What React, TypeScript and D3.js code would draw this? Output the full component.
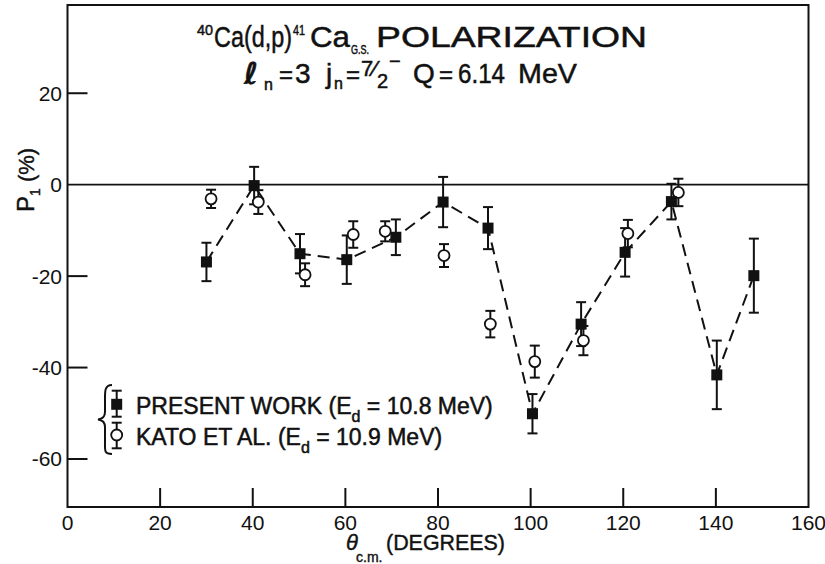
import React from "react";
import * as d3 from "d3";

const W = 825;
const H = 564;

const xTickValues = [0, 20, 40, 60, 80, 100, 120, 140, 160];
const xInnerTicks = [20, 40, 60, 80, 100, 120, 140];
const yTickValues = [20, 0, -20, -40, -60];
const yInnerTicks = [20, -20, -40, -60];

// Present work (E_d = 10.8 MeV) — filled squares
const presentAngle = [30, 40.3, 50.2, 60.3, 70.9, 81.1, 90.8, 100.4, 110.9, 120.4, 130.4, 140.2, 148.2];
const presentP = [-16.9, -0.2, -15.1, -16.4, -11.5, -3.8, -9.5, -50.1, -30.5, -14.8, -3.7, -41.6, -19.9];
const presentErr = [4.2, 4.1, 4.3, 5.3, 3.9, 5.5, 4.6, 4.3, 4.8, 5.3, 3.9, 7.5, 8.1];

// Kato et al. (E_d = 10.9 MeV) — open circles
const katoAngle = [31.0, 41.2, 51.3, 61.7, 68.6, 81.3, 91.3, 100.9, 111.4, 121.0, 131.9];
const katoP = [-3.1, -3.8, -19.7, -10.9, -10.2, -15.5, -30.5, -38.7, -34.1, -10.7, -1.7];
const katoErr = [2.0, 2.6, 2.5, 2.9, 2.2, 2.5, 2.9, 3.5, 3.2, 3.0, 3.0];

const FONT = "'Liberation Sans', Arial, sans-serif";
const INK = "#111";

function ErrBar({ cx, y1, y2, cap = 5 }: { cx: number; y1: number; y2: number; cap?: number }) {
  return (
    <g stroke={INK} strokeWidth={2} fill="none">
      <line x1={cx} x2={cx} y1={y1} y2={y2} />
      <line x1={cx - cap} x2={cx + cap} y1={y1} y2={y1} />
      <line x1={cx - cap} x2={cx + cap} y1={y2} y2={y2} />
    </g>
  );
}

export default function App() {
  const x = d3.scaleLinear().domain([0, 160]).range([67.5, 808.5]);
  const y = d3.scaleLinear().domain([-70.5, 39.3]).range([507, 5]);

  const line = d3
    .line<number>()
    .x((_, i) => x(presentAngle[i]))
    .y((d) => y(d));

  const x0 = x(0);
  const x1 = x(160);
  const yb = y(-70.5);
  const yt = y(39.3);

  const sq = 11;

  return (
    <svg
      width={W}
      height={H}
      viewBox={`0 0 ${W} ${H}`}
      style={{ position: "absolute", left: 0, top: 0, background: "#fff" }}
      fontFamily={FONT}
    >
      <rect x={0} y={0} width={W} height={H} fill="#fff" />

      {/* frame */}
      <rect x={x0} y={yt} width={x1 - x0} height={yb - yt} fill="none" stroke={INK} strokeWidth={2} />
      {/* zero line */}
      <line x1={x0} x2={x1} y1={y(0)} y2={y(0)} stroke={INK} strokeWidth={1.8} />

      {/* y ticks */}
      {yInnerTicks.map((t) => (
        <line key={"yt" + t} x1={x0} x2={x0 + 20} y1={y(t)} y2={y(t)} stroke={INK} strokeWidth={2} />
      ))}
      {yTickValues.map((t) => (
        <text key={"yl" + t} x={62} y={y(t) + 7.5} textAnchor="end" fontSize={21} fill={INK}>
          {t < 0 ? "-" + Math.abs(t) : String(t)}
        </text>
      ))}

      {/* x ticks */}
      {xInnerTicks.map((t) => (
        <line key={"xt" + t} x1={x(t)} x2={x(t)} y1={yb} y2={yb - 19} stroke={INK} strokeWidth={2} />
      ))}
      {xTickValues.map((t) => (
        <text key={"xl" + t} x={x(t)} y={530} textAnchor="middle" fontSize={21} fill={INK}>
          {String(t)}
        </text>
      ))}

      {/* dashed connecting line */}
      <path d={line(presentP) || ""} fill="none" stroke={INK} strokeWidth={2} strokeDasharray="12,7" />

      {/* Kato error bars */}
      {katoP.map((v, i) => (
        <ErrBar key={"ke" + i} cx={x(katoAngle[i])} y1={y(v + katoErr[i])} y2={y(v - katoErr[i])} />
      ))}
      {/* Present error bars */}
      {presentP.map((v, i) => (
        <ErrBar key={"pe" + i} cx={x(presentAngle[i])} y1={y(v + presentErr[i])} y2={y(v - presentErr[i])} />
      ))}
      {katoP.map((v, i) => (
        <circle key={"kc" + i} cx={x(katoAngle[i])} cy={y(v)} r={5.5} fill="#fff" stroke={INK} strokeWidth={1.8} />
      ))}
      {presentP.map((v, i) => (
        <rect
          key={"ps" + i}
          x={x(presentAngle[i]) - sq / 2}
          y={y(v) - sq / 2}
          width={sq}
          height={sq}
          fill={INK}
        />
      ))}

      {/* Title line 1 */}
      <text fill={INK} stroke={INK} strokeWidth={0.5} fontSize={30}>
        <tspan x={197} y={35} fontSize={15} textLength={16} lengthAdjust="spacingAndGlyphs">40</tspan>
        <tspan x={214} y={47} textLength={78} lengthAdjust="spacingAndGlyphs">Ca(d,p)</tspan>
        <tspan x={293} y={35} fontSize={15} textLength={12} lengthAdjust="spacingAndGlyphs">41</tspan>
        <tspan x={310} y={47} textLength={40} lengthAdjust="spacingAndGlyphs">Ca</tspan>
        <tspan x={351} y={54} fontSize={12} textLength={18} lengthAdjust="spacingAndGlyphs">G.S.</tspan>
        <tspan x={376} y={47} textLength={271} lengthAdjust="spacingAndGlyphs">POLARIZATION</tspan>
      </text>

      {/* Title line 2 */}
      <text fill={INK} stroke={INK} strokeWidth={0.5} fontSize={28}>
        <tspan x={244} y={84} fontSize={30} fontStyle="italic" fontWeight="bold" fontFamily="'DejaVu Sans', sans-serif">ℓ</tspan>
        <tspan x={264} y={90} fontSize={16}>n</tspan>
        <tspan x={279} y={83} fontSize={24}>=</tspan>
        <tspan x={295} y={83}>3</tspan>
        <tspan x={326} y={83}>j</tspan>
        <tspan x={334} y={89} fontSize={16}>n</tspan>
        <tspan x={346} y={83} fontSize={24}>=</tspan>
        <tspan x={361} y={76} fontSize={22}>7⁄</tspan>
        <tspan x={377} y={88} fontSize={20}>2</tspan>
        <tspan x={389} y={68} fontSize={20}>−</tspan>
        <tspan x={413} y={83}>Q</tspan>
        <tspan x={439} y={83} fontSize={24}>=</tspan>
        <tspan x={458} y={83} textLength={47} lengthAdjust="spacingAndGlyphs">6.14</tspan>
        <tspan x={518} y={83} textLength={59} lengthAdjust="spacingAndGlyphs">MeV</tspan>
      </text>

      {/* Y axis label */}
      <g transform="translate(34,212) rotate(-90)" fill={INK} stroke={INK} strokeWidth={0.4}>
        <text x={0} y={0} fontSize={24}>
          P
          <tspan fontSize={14} dy={6}>1</tspan>
          <tspan fontSize={22} dy={-6}> (%)</tspan>
        </text>
      </g>

      {/* X axis label */}
      <text fill={INK} stroke={INK} strokeWidth={0.4} fontSize={22}>
        <tspan x={346} y={550} fontSize={22} fontStyle="italic">θ</tspan>
        <tspan x={356} y={562} fontSize={14}>c.m.</tspan>
        <tspan x={386} y={550} textLength={119} lengthAdjust="spacingAndGlyphs">(DEGREES)</tspan>
      </text>

      {/* Legend */}
      <path
        d="M112,385 C104,385 105,392 105,404 L105,412 C105,417 102,419 98,419.5 C102,420 105,422 105,427 L105,441 C105,451 104,454 112,454"
        fill="none"
        stroke={INK}
        strokeWidth={2}
      />
      <ErrBar cx={116.7} y1={390.7} y2={416.7} />
      <rect x={116.7 - sq / 2} y={404.3 - sq / 2} width={sq} height={sq} fill={INK} />
      <ErrBar cx={116.7} y1={422.7} y2={448.3} />
      <circle cx={116.7} cy={435} r={5.5} fill="#fff" stroke={INK} strokeWidth={1.8} />

      <g fill={INK} stroke={INK} strokeWidth={0.5}>
        <text x={136} y={413.5} fontSize={23}>
          PRESENT WORK (E
          <tspan fontSize={16} dy={8}>d</tspan>
          <tspan dy={-8}> = 10.8 MeV)</tspan>
        </text>
        <text x={136} y={445} fontSize={23}>
          KATO ET AL. (E
          <tspan fontSize={16} dy={8}>d</tspan>
          <tspan dy={-8}> = 10.9 MeV)</tspan>
        </text>
      </g>
    </svg>
  );
}
